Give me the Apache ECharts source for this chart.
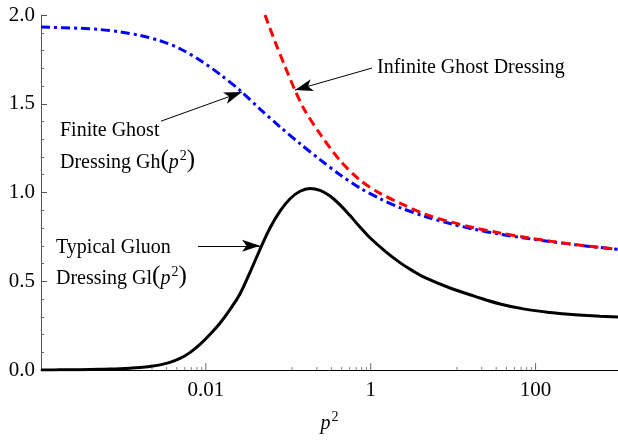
<!DOCTYPE html>
<html>
<head>
<meta charset="utf-8">
<script src="https://cdn.jsdelivr.net/npm/echarts@6/dist/echarts.min.js"></script>
<style>
html,body{margin:0;padding:0;background:#fff;}
#c{width:618px;height:440px;}
</style>
</head>
<body>
<div id="c"></div>
<script>
// ---- data ----
const gluonX = [0.0001, 0.00017, 0.000297, 0.00052, 0.000688, 0.00091, 0.0012, 0.00159, 0.0021, 0.00278, 0.00366, 0.00485, 0.0064, 0.0085, 0.0112, 0.0149, 0.0196, 0.026, 0.0343, 0.0454, 0.060, 0.0794, 0.105, 0.139, 0.183, 0.243, 0.321, 0.424, 0.561, 0.741, 0.98, 1.49, 2.26, 3.2, 4.56, 9.16, 18.4, 37, 74, 150, 301, 605, 1000];
const gluonY = [0.0, 0.001, 0.002, 0.004, 0.005, 0.007, 0.010, 0.014, 0.020, 0.029, 0.043, 0.065, 0.098, 0.145, 0.20, 0.265, 0.34, 0.43, 0.55, 0.68, 0.80, 0.895, 0.965, 1.007, 1.023, 1.012, 0.98, 0.93, 0.87, 0.805, 0.745, 0.67, 0.605, 0.56, 0.52, 0.462, 0.415, 0.372, 0.343, 0.324, 0.311, 0.303, 0.298];

const ghostX = [0.0001, 0.000297, 0.00052, 0.00091, 0.00159, 0.00278, 0.00485, 0.0085, 0.0149, 0.026, 0.0454, 0.0794, 0.139, 0.243, 0.424, 0.741, 1.30, 2.26, 4.56, 9.16, 18.4, 37, 74, 150, 301, 605, 1000];
const ghostY = [1.932, 1.925, 1.918, 1.905, 1.885, 1.855, 1.81, 1.745, 1.665, 1.575, 1.47, 1.37, 1.275, 1.185, 1.10, 1.025, 0.965, 0.915, 0.865, 0.825, 0.792, 0.765, 0.743, 0.724, 0.706, 0.69, 0.68];

const infGhostX = [0.0522, 0.069, 0.0912, 0.1205, 0.1596, 0.243, 0.424, 0.741, 1.30, 2.26, 4.56, 9.16, 18.4, 37, 74, 150, 301, 605, 1000];
const infGhostY = [2.0, 1.85, 1.71, 1.577, 1.46, 1.33, 1.18, 1.07, 0.995, 0.94, 0.878, 0.835, 0.80, 0.772, 0.748, 0.726, 0.707, 0.69, 0.68];

const xMajorTicks = [0.01, 1, 100];
const xTickLabels = ['0.01', '1', '100'];
const xMinorTicks = [0.00111, 0.00222, 0.00333, 0.00444, 0.00556, 0.00667, 0.00778, 0.00889,
                     0.111, 0.222, 0.333, 0.444, 0.556, 0.667, 0.778, 0.889,
                     11.1, 22.2, 33.3, 44.4, 55.6, 66.7, 77.8, 88.9];
const yTicks = [0, 0.5, 1.0, 1.5, 2.0];

// annotation arrows: [startX, startY, tipX, tipY] in data space
const arrowFinite = [0.00286, 1.402, 0.0274, 1.566];
const arrowInfinite = [1.036, 1.701, 0.1205, 1.577];
const arrowGluon = [0.00803, 0.70, 0.0454, 0.70];

// ---- chart ----
const FONT = '"Liberation Serif", "Times New Roman", serif';
const pairs = (xs, ys) => xs.map((x, i) => [x, ys[i]]);

const chart = echarts.init(document.getElementById('c'), null, {renderer: 'canvas'});

function arrowLine(a) {
  return [{coord: [a[0], a[1]]}, {coord: [a[2], a[3]]}];
}

const supRich = {
  n: {fontFamily: FONT, fontSize: 20, color: '#000', lineHeight: 24, verticalAlign: 'bottom'},
  b: {fontFamily: FONT, fontSize: 25, color: '#000', lineHeight: 24, verticalAlign: 'bottom', padding: [0, 0, 0, 0]},
  i: {fontFamily: FONT, fontSize: 20, fontStyle: 'italic', color: '#000', lineHeight: 24, verticalAlign: 'bottom'},
  s: {fontFamily: FONT, fontSize: 14, color: '#000', lineHeight: 14, verticalAlign: 'bottom', padding: [0, 0, 10, 1]}
};

chart.setOption({
  animation: false,
  backgroundColor: '#fff',
  grid: {left: 41, right: 0, top: 15, bottom: 70, containLabel: false},
  xAxis: {
    type: 'log',
    logBase: 10,
    min: 0.0001,
    max: 1000,
    name: '{i|p}{s|2}',
    nameLocation: 'middle',
    nameGap: 40,
    nameTextStyle: {rich: supRich, fontFamily: FONT, fontSize: 20},
    axisLine: {show: true, lineStyle: {color: '#000', width: 1}},
    axisTick: {show: false},
    minorTick: {show: false},
    splitLine: {show: false},
    axisLabel: {
      show: true,
      margin: 10,
      fontFamily: FONT,
      fontSize: 21,
      color: '#000',
      showMinLabel: false,
      showMaxLabel: false,
      formatter: function (v) {
        for (let i = 0; i < xMajorTicks.length; i++) {
          if (Math.abs(Math.log10(v) - Math.log10(xMajorTicks[i])) < 1e-6) return xTickLabels[i];
        }
        return '';
      }
    }
  },
  yAxis: {
    type: 'value',
    min: yTicks[0],
    max: yTicks[yTicks.length - 1],
    interval: 0.5,
    axisLine: {show: true, lineStyle: {color: '#555', width: 1}},
    axisTick: {show: true, inside: true, length: 6, lineStyle: {color: '#555'}},
    minorTick: {show: true, splitNumber: 5, length: 3, lineStyle: {color: '#666'}},
    splitLine: {show: false},
    axisLabel: {
      margin: 6,
      fontFamily: FONT,
      fontSize: 21,
      color: '#000',
      formatter: v => v.toFixed(1)
    }
  },
  series: [
    {
      name: 'majorTicks', type: 'scatter', silent: true, z: 1,
      data: xMajorTicks.map(x => [x, 0]),
      symbol: 'rect', symbolSize: [1, 7], symbolOffset: [0, -3.5],
      itemStyle: {color: '#444'}
    },
    {
      name: 'minorTicks', type: 'scatter', silent: true, z: 1,
      data: xMinorTicks.map(x => [x, 0]),
      symbol: 'rect', symbolSize: [1, 3], symbolOffset: [0, -1.5],
      itemStyle: {color: '#666'}
    },
    {
      name: 'Finite Ghost', type: 'line', showSymbol: false, smooth: 0.3, z: 3,
      data: pairs(ghostX, ghostY),
      lineStyle: {color: '#0000ff', width: 3, type: [9, 4, 3, 4], cap: 'butt'}
    },
    {
      name: 'Infinite Ghost', type: 'line', showSymbol: false, smooth: 0.3, z: 4,
      data: pairs(infGhostX, infGhostY),
      lineStyle: {color: '#ff0000', width: 3, type: [9, 5], cap: 'butt'}
    },
    {
      name: 'Gluon', type: 'line', showSymbol: false, smooth: 0.4, z: 5,
      data: pairs(gluonX, gluonY),
      lineStyle: {color: '#000', width: 3},
      markLine: {
        silent: true,
        symbol: ['none', 'arrow'],
        symbolSize: [9, 18],
        label: {show: false},
        lineStyle: {color: '#000', width: 1, type: 'solid'},
        emphasis: {disabled: true},
        data: [arrowLine(arrowFinite), arrowLine(arrowInfinite), arrowLine(arrowGluon)]
      }
    }
  ],
  graphic: [
    {type: 'text', left: 377, top: 58, style: {text: 'Infinite Ghost Dressing', font: '20px ' + FONT, fill: '#000'}},
    {type: 'text', left: 60, top: 121, style: {text: 'Finite Ghost', font: '20px ' + FONT, fill: '#000'}},
    {type: 'text', left: 60, top: 148, style: {text: '{n|Dressing Gh}{b|(}{i|p}{s|2}{b|)}', rich: supRich, font: '20px ' + FONT, fill: '#000'}},
    {type: 'text', left: 56, top: 238, style: {text: 'Typical Gluon', font: '20px ' + FONT, fill: '#000'}},
    {type: 'text', left: 56, top: 264, style: {text: '{n|Dressing Gl}{b|(}{i|p}{s|2}{b|)}', rich: supRich, font: '20px ' + FONT, fill: '#000'}}
  ]
});
</script>
</body>
</html>
